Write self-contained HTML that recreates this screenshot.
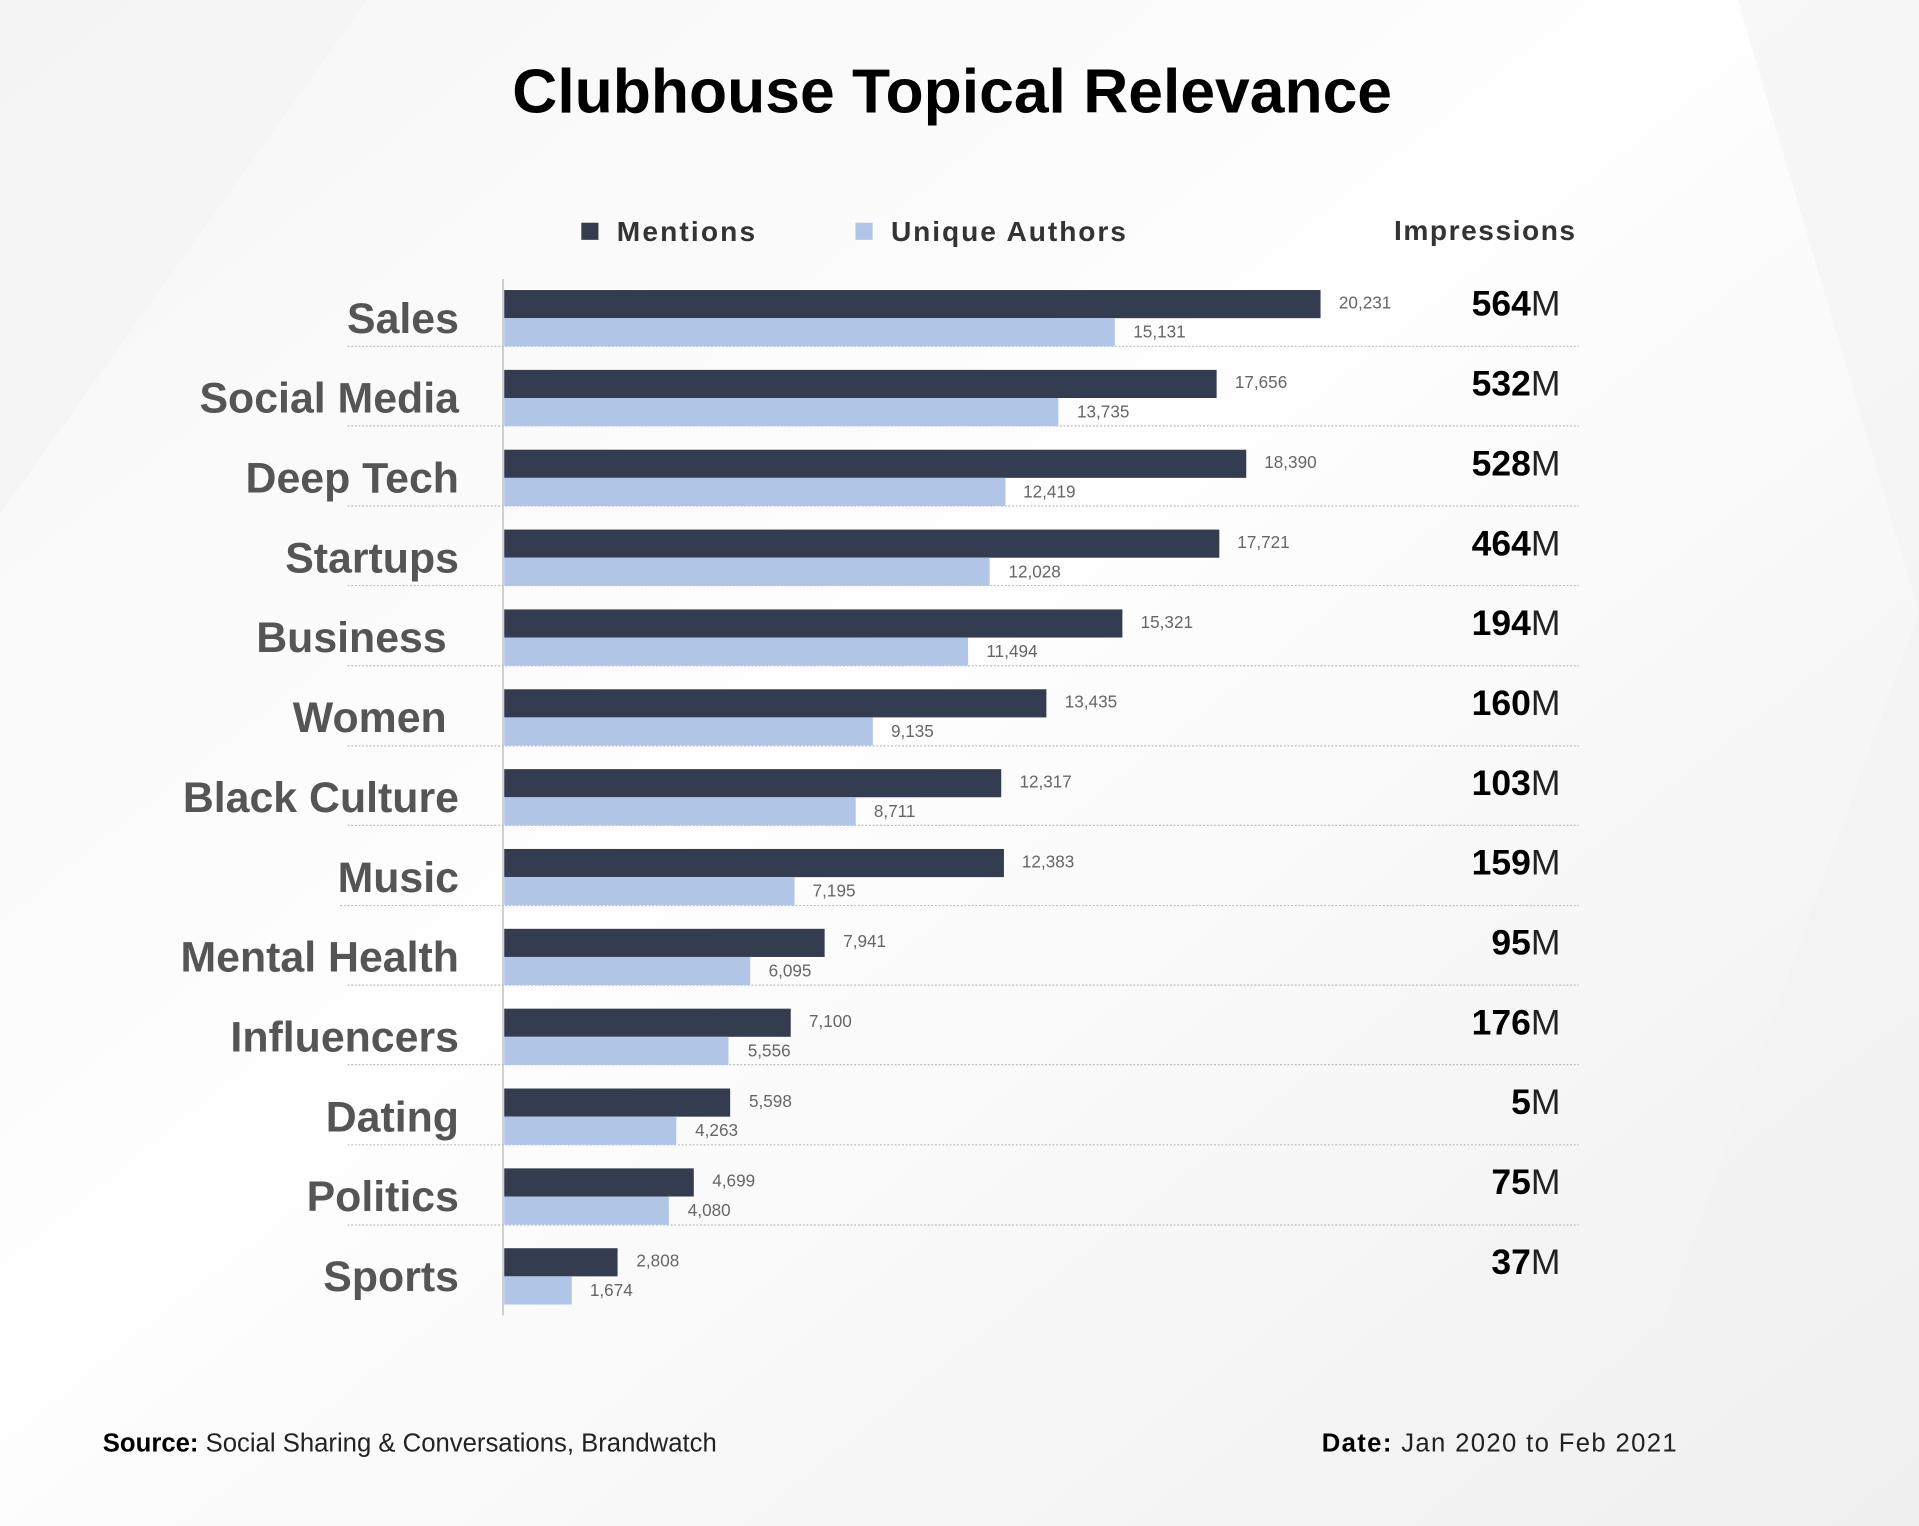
<!DOCTYPE html>
<html><head><meta charset="utf-8"><style>
html,body{margin:0;padding:0;background:#fff;}
svg{display:block;}
text{font-family:"Liberation Sans",sans-serif;}
.cat{font-size:35px;font-weight:bold;fill:#555;text-anchor:end;}
.v{font-size:14px;fill:#666;}
.imp{font-size:29px;font-weight:bold;fill:#000;text-anchor:end;}
.m{font-weight:normal;fill:#222;}
</style></head><body>
<svg width="1919" height="1526" viewBox="0 0 1568 1247" preserveAspectRatio="none" xmlns="http://www.w3.org/2000/svg">
<defs>
<linearGradient id="bg" x1="0" y1="0" x2="1" y2="1">
<stop offset="0" stop-color="#f6f6f6"/><stop offset="0.45" stop-color="#fefefe"/><stop offset="1" stop-color="#efefef"/>
</linearGradient>
</defs>
<rect width="1568" height="1247" fill="url(#bg)"/>
<polygon points="0,0 300,0 0,420" fill="#f3f3f3" opacity="0.7"/>
<polygon points="1420,0 1568,0 1568,1247 1300,1247 1568,500" fill="#f2f2f2" opacity="0.5"/>

<text x="778" y="92" text-anchor="middle" font-size="51" font-weight="bold" fill="#000">Clubhouse Topical Relevance</text>

<rect x="475" y="182" width="14" height="14" fill="#333d4f"/>
<text x="504" y="197" font-size="23" font-weight="bold" fill="#333" textLength="113">Mentions</text>
<rect x="699" y="182" width="14" height="14" fill="#b1c5e6"/>
<text x="728" y="197" font-size="23" font-weight="bold" fill="#333" textLength="192">Unique Authors</text>
<text x="1139" y="196" font-size="23" font-weight="bold" fill="#333" textLength="148">Impressions</text>

<line x1="411" y1="228" x2="411" y2="1075" stroke="#ccc" stroke-width="1.5"/>

<g fill="none" stroke="#bbb" stroke-width="1" stroke-dasharray="1.5,1.5">
<line x1="284" y1="283" x2="1290" y2="283"/>
<line x1="284" y1="348" x2="1290" y2="348"/>
<line x1="284" y1="413.5" x2="1290" y2="413.5"/>
<line x1="284" y1="478.5" x2="1290" y2="478.5"/>
<line x1="284" y1="544" x2="1290" y2="544"/>
<line x1="284" y1="609.5" x2="1290" y2="609.5"/>
<line x1="284" y1="674.5" x2="1290" y2="674.5"/>
<line x1="278" y1="740" x2="1290" y2="740"/>
<line x1="284" y1="805" x2="1290" y2="805"/>
<line x1="284" y1="870" x2="1290" y2="870"/>
<line x1="284" y1="935.5" x2="1290" y2="935.5"/>
<line x1="284" y1="1001" x2="1290" y2="1001"/>
</g>

<g transform="translate(0,237)">
<rect x="412" y="0" width="667" height="23" fill="#333d4f"/><rect x="412" y="23" width="498.9" height="23" fill="#b1c5e6"/>
<text class="v" x="1094" y="15">20,231</text><text class="v" x="926" y="39">15,131</text>
<text class="cat" x="375" y="35">Sales</text>
<text class="imp" x="1275" y="21">564<tspan class="m">M</tspan></text>
</g>
<g transform="translate(0,302.25)">
<rect x="412" y="0" width="582.1" height="23" fill="#333d4f"/><rect x="412" y="23" width="452.8" height="23" fill="#b1c5e6"/>
<text class="v" x="1009" y="15">17,656</text><text class="v" x="880" y="39">13,735</text>
<text class="cat" x="375" y="35">Social Media</text>
<text class="imp" x="1275" y="21">532<tspan class="m">M</tspan></text>
</g>
<g transform="translate(0,367.5)">
<rect x="412" y="0" width="606.3" height="23" fill="#333d4f"/><rect x="412" y="23" width="409.5" height="23" fill="#b1c5e6"/>
<text class="v" x="1033" y="15">18,390</text><text class="v" x="836" y="39">12,419</text>
<text class="cat" x="375" y="35">Deep Tech</text>
<text class="imp" x="1275" y="21">528<tspan class="m">M</tspan></text>
</g>
<g transform="translate(0,432.75)">
<rect x="412" y="0" width="584.3" height="23" fill="#333d4f"/><rect x="412" y="23" width="396.6" height="23" fill="#b1c5e6"/>
<text class="v" x="1011" y="15">17,721</text><text class="v" x="824" y="39">12,028</text>
<text class="cat" x="375" y="35">Startups</text>
<text class="imp" x="1275" y="21">464<tspan class="m">M</tspan></text>
</g>
<g transform="translate(0,498)">
<rect x="412" y="0" width="505.1" height="23" fill="#333d4f"/><rect x="412" y="23" width="379" height="23" fill="#b1c5e6"/>
<text class="v" x="932" y="15">15,321</text><text class="v" x="806" y="39">11,494</text>
<text class="cat" x="365" y="35">Business</text>
<text class="imp" x="1275" y="21">194<tspan class="m">M</tspan></text>
</g>
<g transform="translate(0,563.25)">
<rect x="412" y="0" width="443" height="23" fill="#333d4f"/><rect x="412" y="23" width="301.2" height="23" fill="#b1c5e6"/>
<text class="v" x="870" y="15">13,435</text><text class="v" x="728" y="39">9,135</text>
<text class="cat" x="365" y="35">Women</text>
<text class="imp" x="1275" y="21">160<tspan class="m">M</tspan></text>
</g>
<g transform="translate(0,628.5)">
<rect x="412" y="0" width="406.1" height="23" fill="#333d4f"/><rect x="412" y="23" width="287.2" height="23" fill="#b1c5e6"/>
<text class="v" x="833" y="15">12,317</text><text class="v" x="714" y="39">8,711</text>
<text class="cat" x="375" y="35">Black Culture</text>
<text class="imp" x="1275" y="21">103<tspan class="m">M</tspan></text>
</g>
<g transform="translate(0,693.75)">
<rect x="412" y="0" width="408.3" height="23" fill="#333d4f"/><rect x="412" y="23" width="237.2" height="23" fill="#b1c5e6"/>
<text class="v" x="835" y="15">12,383</text><text class="v" x="664" y="39">7,195</text>
<text class="cat" x="375" y="35">Music</text>
<text class="imp" x="1275" y="21">159<tspan class="m">M</tspan></text>
</g>
<g transform="translate(0,759)">
<rect x="412" y="0" width="261.8" height="23" fill="#333d4f"/><rect x="412" y="23" width="201" height="23" fill="#b1c5e6"/>
<text class="v" x="689" y="15">7,941</text><text class="v" x="628" y="39">6,095</text>
<text class="cat" x="375" y="35">Mental Health</text>
<text class="imp" x="1275" y="21">95<tspan class="m">M</tspan></text>
</g>
<g transform="translate(0,824.25)">
<rect x="412" y="0" width="234.1" height="23" fill="#333d4f"/><rect x="412" y="23" width="183.2" height="23" fill="#b1c5e6"/>
<text class="v" x="661" y="15">7,100</text><text class="v" x="611" y="39">5,556</text>
<text class="cat" x="375" y="35">Influencers</text>
<text class="imp" x="1275" y="21">176<tspan class="m">M</tspan></text>
</g>
<g transform="translate(0,889.5)">
<rect x="412" y="0" width="184.6" height="23" fill="#333d4f"/><rect x="412" y="23" width="140.6" height="23" fill="#b1c5e6"/>
<text class="v" x="612" y="15">5,598</text><text class="v" x="568" y="39">4,263</text>
<text class="cat" x="375" y="35">Dating</text>
<text class="imp" x="1275" y="21">5<tspan class="m">M</tspan></text>
</g>
<g transform="translate(0,954.75)">
<rect x="412" y="0" width="154.9" height="23" fill="#333d4f"/><rect x="412" y="23" width="134.5" height="23" fill="#b1c5e6"/>
<text class="v" x="582" y="15">4,699</text><text class="v" x="562" y="39">4,080</text>
<text class="cat" x="375" y="35">Politics</text>
<text class="imp" x="1275" y="21">75<tspan class="m">M</tspan></text>
</g>
<g transform="translate(0,1020)">
<rect x="412" y="0" width="92.6" height="23" fill="#333d4f"/><rect x="412" y="23" width="55.2" height="23" fill="#b1c5e6"/>
<text class="v" x="520" y="15">2,808</text><text class="v" x="482" y="39">1,674</text>
<text class="cat" x="375" y="35">Sports</text>
<text class="imp" x="1275" y="21">37<tspan class="m">M</tspan></text>
</g>

<text x="84" y="1186" font-size="21" fill="#222"><tspan font-weight="bold" fill="#000">Source:</tspan> Social Sharing &amp; Conversations, Brandwatch</text>
<text x="1080" y="1186" font-size="21" fill="#222" textLength="290"><tspan font-weight="bold" fill="#000">Date:</tspan> Jan 2020 to Feb 2021</text>
</svg>
</body></html>
